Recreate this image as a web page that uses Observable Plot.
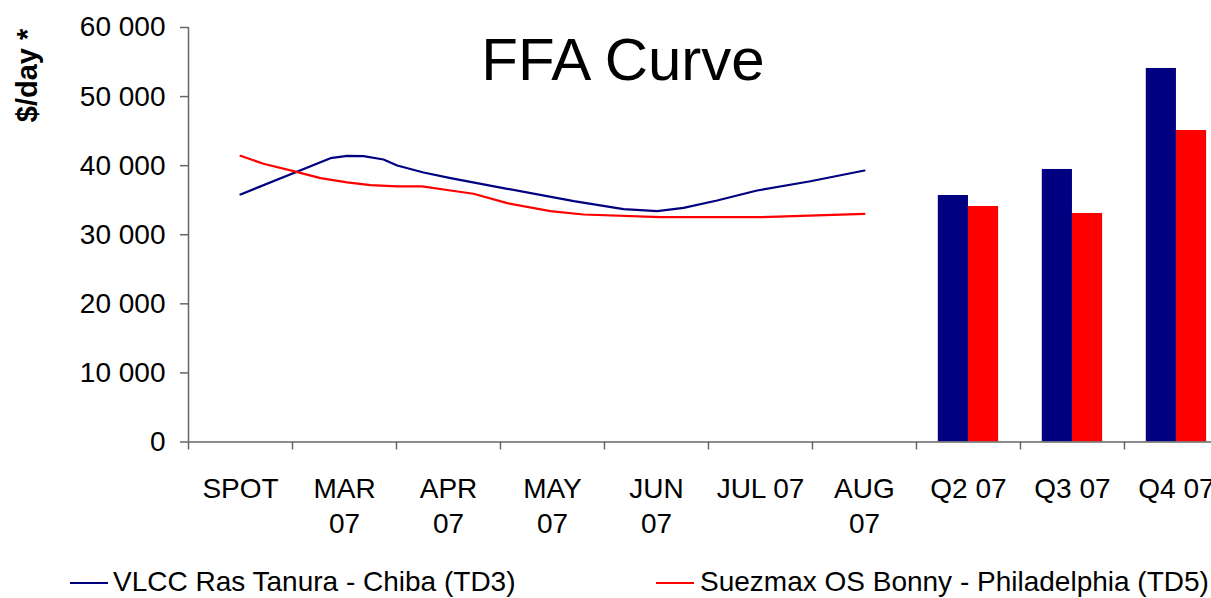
<!DOCTYPE html>
<html>
<head>
<meta charset="utf-8">
<script src="https://cdn.jsdelivr.net/npm/d3@7"></script>
<script src="https://cdn.jsdelivr.net/npm/@observablehq/plot@0.6"></script>
<style>
  html, body { margin: 0; padding: 0; background: #fff; overflow: hidden; }
  #wrap { position: relative; width: 1211px; height: 598px; overflow: hidden; font-family: "Liberation Sans", Arial, sans-serif; }
  .leg { position: absolute; top: 566px; height: 32px; line-height: 32px; font-size: 28px; white-space: nowrap; color: #000; }
  .sw { position: absolute; top: 582px; width: 38px; height: 2px; }
</style>
</head>
<body>
<div id="wrap"></div>
<script>
// ---- data ----
const categories = ["SPOT", "MAR\n07", "APR\n07", "MAY\n07", "JUN\n07", "JUL 07", "AUG\n07", "Q2 07", "Q3 07", "Q4 07"];
const seriesNames = ["VLCC Ras Tanura - Chiba (TD3)", "Suezmax OS Bonny - Philadelphia (TD5)"];
const seriesColors = ["#000080", "#FF0000"];

// forward curve readings: position in months from SPOT, value $/day
const vlccT =   [0, 0.865, 1.026, 1.183, 1.375, 1.507, 1.76, 2.02, 2.565, 3.205, 3.683, 4.007, 4.26, 4.583, 4.968, 5.48, 6.0];
const vlccVal = [35830, 41080, 41430, 41370, 40890, 40020, 39010, 38190, 36650, 34860, 33700, 33410, 33900, 34960, 36410, 37750, 39300];
const suezT =   [0, 0.221, 0.51, 0.769, 1.026, 1.25, 1.507, 1.747, 2.02, 2.24, 2.565, 2.98, 3.298, 4.04, 5.0, 6.0];
const suezVal = [41430, 40270, 39200, 38190, 37570, 37170, 36990, 36990, 36410, 35930, 34570, 33410, 32930, 32540, 32540, 33030];

// quarterly bars
const quarters = ["Q2 07", "Q3 07", "Q4 07"];
const vlccQ = [35680, 39450, 54070];
const suezQ = [34090, 33080, 45090];

const yTicks = [0, 10000, 20000, 30000, 40000, 50000, 60000];
const titleText = "FFA Curve";
const yLabel = "$/day *";

// ---- build tables ----
const vlccLine = vlccT.map((t, i) => ({t, v: vlccVal[i]}));
const suezLine = suezT.map((t, i) => ({t, v: suezVal[i]}));
const barW = 0.29;
const bars = [];
quarters.forEach((q, i) => {
  const idx = categories.indexOf(q);
  bars.push({cat: q, series: seriesNames[0], value: vlccQ[i], x1: idx + 0.5 - barW, x2: idx + 0.5});
  bars.push({cat: q, series: seriesNames[1], value: suezQ[i], x1: idx + 0.5, x2: idx + 0.5 + barW});
});
const fmt = d => d3.format(",")(d).replace(/,/g, " ");
const axisColor = "#666";

const chart = Plot.plot({
  width: 1211,
  height: 550,
  marginLeft: 188,
  marginRight: 0,
  marginTop: 27,
  marginBottom: 108.5,
  style: {fontFamily: '"Liberation Sans", Arial, sans-serif', fontSize: "28px", color: "#000", background: "#fff", overflow: "visible"},
  x: {type: "linear", domain: [0, 9.837], axis: null},
  y: {domain: [0, 60000], axis: null},
  color: {domain: seriesNames, range: seriesColors},
  marks: [
    Plot.rectY(bars, {x1: "x1", x2: "x2", y: "value", fill: "series"}),
    Plot.line(vlccLine, {x: d => d.t + 0.5, y: "v", stroke: seriesColors[0], strokeWidth: 2.2}),
    Plot.line(suezLine, {x: d => d.t + 0.5, y: "v", stroke: seriesColors[1], strokeWidth: 2.2}),
    Plot.ruleX([0], {stroke: axisColor, strokeWidth: 1.5}),
    Plot.ruleY([0], {stroke: axisColor, strokeWidth: 1.5}),
    Plot.axisY({ticks: yTicks, tickSize: 8, tickPadding: 15, tickFormat: fmt, fontSize: 28, stroke: axisColor, strokeWidth: 1.5}),
    Plot.axisX({ticks: d3.range(0, 10), tickSize: 8, tickFormat: () => "", stroke: axisColor, strokeWidth: 1.5}),
    Plot.text(categories, {x: (d, i) => i + 0.5, frameAnchor: "bottom", dy: 31.5, lineAnchor: "top", lineHeight: 1.25, fontSize: 28, text: d => d}),
    Plot.text([titleText], {frameAnchor: "top", dx: -77, dy: 10, lineAnchor: "top", fontSize: 60, text: d => d}),
    Plot.text([yLabel], {frameAnchor: "top-left", dx: -161, dy: 48, rotate: -90, textAnchor: "middle", lineAnchor: "middle", fontSize: 29, fontWeight: "bold", text: d => d})
  ]
});

const wrap = document.getElementById("wrap");
wrap.appendChild(chart);

// legend below the chart
const legendX = [[70, 113], [656, 700]];
seriesNames.forEach((name, i) => {
  const sw = document.createElement("div");
  sw.className = "sw";
  sw.style.left = legendX[i][0] + "px";
  sw.style.background = seriesColors[i];
  wrap.appendChild(sw);
  const t = document.createElement("div");
  t.className = "leg";
  t.style.left = legendX[i][1] + "px";
  t.textContent = name;
  wrap.appendChild(t);
});
</script>
</body>
</html>
